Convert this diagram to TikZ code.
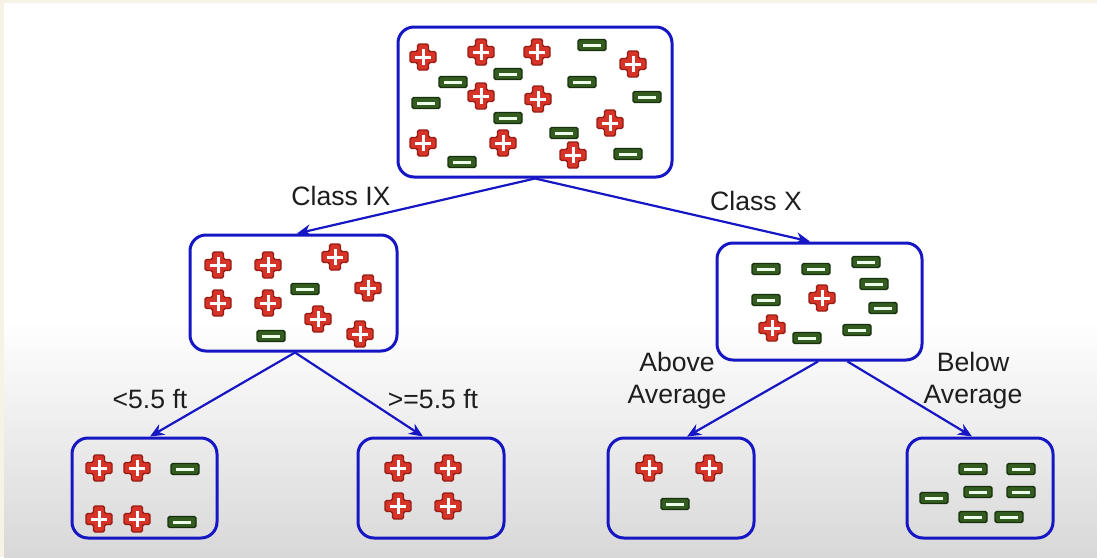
\documentclass[tikz,border=0pt]{standalone}
\usepackage{fontspec}
\setmainfont{Liberation Sans}
\usetikzlibrary{arrows.meta}
\definecolor{Edge}{RGB}{22,22,196}
\definecolor{PlusRed}{RGB}{214,52,40}
\definecolor{PlusEdge}{RGB}{150,28,20}
\definecolor{MinusGreen}{RGB}{52,92,32}
\definecolor{MinusEdge}{RGB}{22,48,12}
\definecolor{Cream}{RGB}{246,243,230}
\definecolor{BgGray}{RGB}{216,216,216}
\definecolor{Ink}{RGB}{30,30,30}

\tikzset{
  plussign/.pic={
    \filldraw[draw=PlusEdge, fill=PlusRed, line width=0.7pt, rounded corners=0.8pt]
      (-5.5,-13) -- (5.5,-13) -- (5.5,-5.5) -- (13,-5.5) -- (13,5.5) -- (5.5,5.5) -- (5.5,13)
      -- (-5.5,13) -- (-5.5,5.5) -- (-13,5.5) -- (-13,-5.5) -- (-5.5,-5.5) -- cycle;
    \draw[white, line width=1.5pt] (-8,0) -- (8,0) (0,-8) -- (0,8);
  },
  minussign/.pic={
    \filldraw[draw=MinusEdge, fill=MinusGreen, line width=0.7pt, rounded corners=0.8pt]
      (-14,-5.5) rectangle (14,5.5);
    \draw[white!92!green, line width=1.5pt] (-9,0) -- (9,0);
  }
}

\begin{document}
\begin{tikzpicture}[
    x=0.5pt,
    y=-0.5pt,
    every node/.style={align=center},
    splitbox/.style={
      draw=Edge,
      fill=none,
      rounded corners=8pt,
      line width=1.5pt
    },
    branchlabel/.style={
      text=Ink,
      inner sep=0pt,
      font=\fontsize{13.3}{16}\selectfont
    },
    flow/.style={-{Stealth[length=7pt, width=6pt]}, line width=1.1pt, color=Edge}
  ]

    % Page background
    \useasboundingbox (0,0) rectangle (1097,557);
    \fill[Cream] (0,0) rectangle (1097,557);
    \fill[white] (4,3) rectangle (1097,557);
    \begin{scope}[y=0.5pt]
      \shade[top color=white, bottom color=BgGray] (4,-557) rectangle (1097,-320);
    \end{scope}

    % Tree boxes
    \node[splitbox, minimum width=137pt, minimum height=75pt] (root) at (535,102) {};
    \node[splitbox, minimum width=103.5pt, minimum height=58pt] (left) at (293.5,293) {};
    \node[splitbox, minimum width=102.5pt, minimum height=58.5pt] (right) at (819.5,301.5) {};
    \node[splitbox, minimum width=72.5pt, minimum height=50pt] (short) at (144.5,488) {};
    \node[splitbox, minimum width=73pt, minimum height=50pt] (tall) at (431,488) {};
    \node[splitbox, minimum width=73pt, minimum height=50pt] (above) at (681,488) {};
    \node[splitbox, minimum width=73pt, minimum height=50pt] (below) at (980,488) {};

    % Signs in the root
    \foreach \p in {(423,57),(481,52),(537,52),(633,64),(481,96),(538,99),(610,123),(423,143),(503,143),(573,155)}
      \pic at \p {plussign};
    \foreach \p in {(592,45),(453,82),(508,74),(582,82),(647,97),(426,103),(508,118),(564,133),(628,154),(462,162)}
      \pic at \p {minussign};

    % Signs in the second level
    \foreach \p in {(218,265),(268,265),(335,257),(368,288),(218,303),(268,303),(318,319),(360,334),(822,298),(772,328)}
      \pic at \p {plussign};
    \foreach \p in {(305,289),(271,336),(766,269),(816,269),(866,262),(874,284),(766,300),(883,308),(857,330),(807,338)}
      \pic at \p {minussign};

    % Signs in the leaves
    \foreach \p in {(99,468),(137,468),(99,519),(137,519),(398,468),(448,468),(398,506),(448,506),(649,468),(709,468)}
      \pic at \p {plussign};
    \foreach \p in {(185,469),(182,522),(675,504),(973,469),(1021,469),(978,492),(1021,492),(934,498),(973,517),(1009,517)}
      \pic at \p {minussign};

    % Branch arrows
    \draw[flow] (root.south) -- ([xshift=1.75pt]left.north);
    \draw[flow] (root.south) -- ([xshift=-4.75pt]right.north);
    \draw[flow] ([xshift=0.75pt]left.south) -- ([xshift=2.75pt]short.north);
    \draw[flow] ([xshift=0.75pt]left.south) -- ([xshift=-4pt]tall.north);
    \draw[flow] ([xshift=-0.75pt]right.south) -- ([xshift=3pt]above.north);
    \draw[flow] ([xshift=14pt]right.south) -- ([xshift=-4pt]below.north);

    % Branch labels
    \node[branchlabel] (lblix) at (341,196) {Class IX};
    \node[branchlabel] (lblx) at (756,201) {Class X};
    \node[branchlabel] (lblshort) at (150,399) {<5.5 ft};
    \node[branchlabel] (lbltall) at (433,399) {>=5.5 ft};
    \node[branchlabel] (lblabove) at (677,381) {Above\\Average};
    \node[branchlabel] (lblbelow) at (973,381) {Below\\Average};
  \end{tikzpicture}
\end{document}
